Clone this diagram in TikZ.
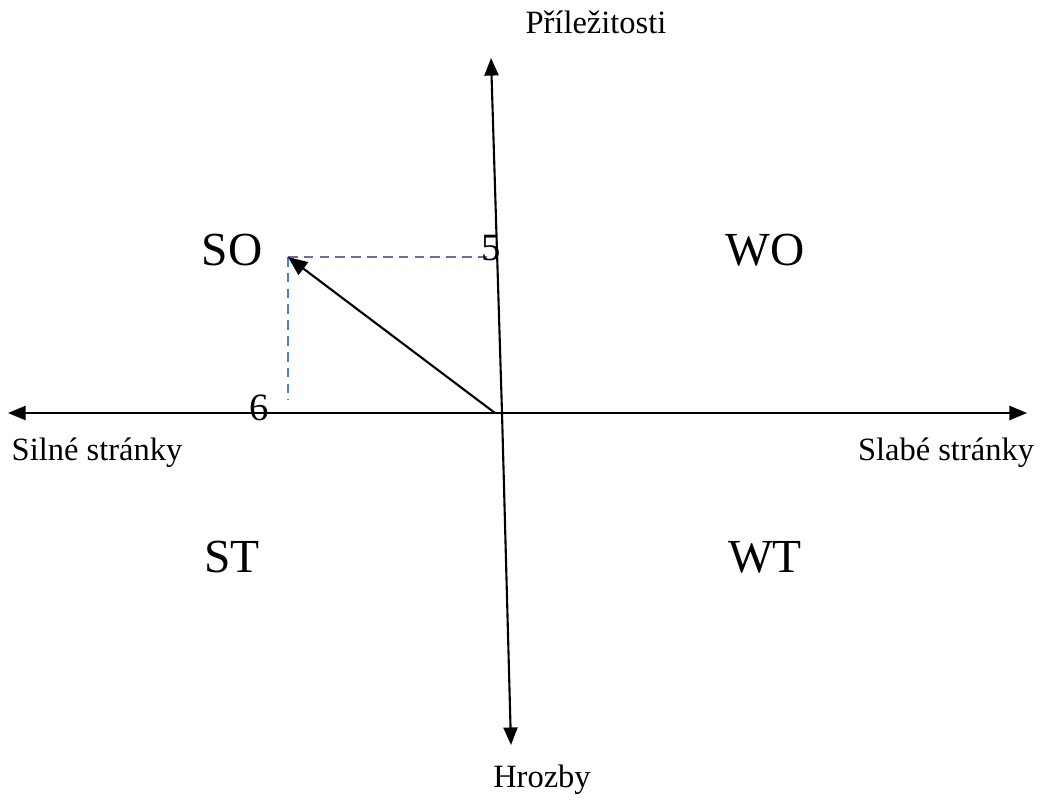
\documentclass[tikz,border=0pt]{standalone}
\usepackage{fontspec}
\setmainfont{Liberation Serif}
\usepackage{tikz}
\usetikzlibrary{arrows.meta,positioning,calc}

\definecolor{dashblue}{HTML}{4F81BD}
\definecolor{dashpurple}{HTML}{8064A2}

\tikzset{
  axis/.style={line width=1.2pt,-{Triangle[length=10pt,width=8pt]}},
  quad/.style={font=\fontsize{27}{32}\selectfont},
  lbl/.style={font=\fontsize{18.5}{22}\selectfont},
  digit/.style={font=\fontsize{22}{26}\selectfont},
  helper/.style={line width=1.5pt,dash pattern=on 5.5pt off 3.5pt}
}

\begin{document}
\begin{tikzpicture}[x=0.02cm,y=-0.02cm]
  \useasboundingbox (0,0) rectangle (1043,806);
  % axes
  \coordinate (top) at (491,58);
  \coordinate (bottom) at (511,745);
  \coordinate (left) at (8,413);
  \coordinate (right) at (1027,413);
  \coordinate (mid) at (502,413);
  \draw[axis] (mid) -- (top);
  \draw[axis] (mid) -- (bottom);
  \draw[axis] (mid) -- (left);
  \draw[axis] (mid) -- (right);
  % axis labels
  \node[lbl] (opp) at (596,22) {Příležitosti};
  \node[lbl] (thr) at (542,780) {Hrozby};
  \node[lbl] (str) at (97,453) {Silné stránky};
  \node[lbl] (wea) at (946,453) {Slabé stránky};
  % quadrants
  \foreach \x/\y/\name in {232/250/SO,765/250/WO,232/557/ST,765/557/WT}{
    \node[quad] (q\name) at (\x,\y) {\name};
  }
  % result vector
  \coordinate (orig) at (495,413);
  \coordinate (pt) at (288,257);
  \coordinate (py) at (487,257);
  \coordinate (px) at (288,400);
  \draw[helper,dashpurple] (pt) -- (py);
  \draw[helper,dashblue] (pt) -- (px);
  \draw[line width=1.2pt,-{Triangle[length=11pt,width=9pt]}] (orig) -- (pt);
  \node[digit] (five) at (491,248) {5};
  \node[digit] (six) at (259,408) {6};
\end{tikzpicture}
\end{document}
